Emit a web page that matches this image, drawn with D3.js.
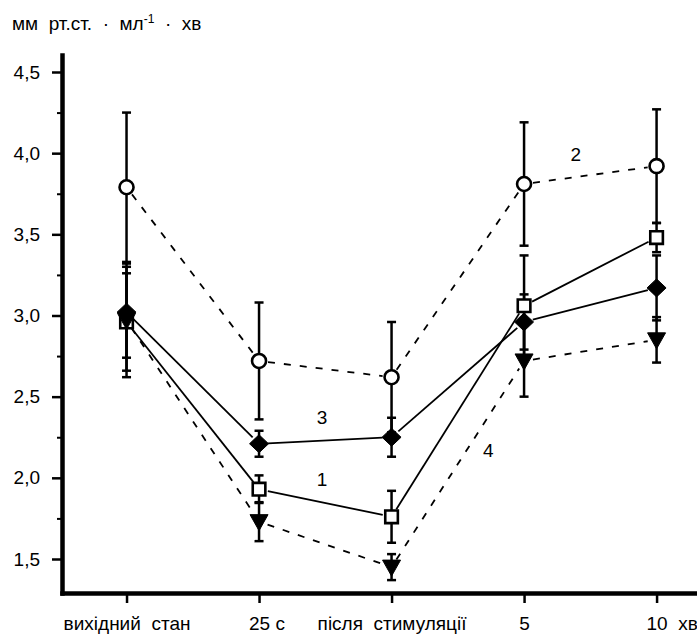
<!DOCTYPE html>
<html>
<head>
<meta charset="utf-8">
<script src="https://cdn.jsdelivr.net/npm/d3@7"></script>
<style>
  body { margin: 0; background: #fff; }
  svg { display: block; font-family: "Liberation Sans", Arial, sans-serif; }
</style>
</head>
<body>
<div class="chart"></div>
<script>
// data
const categories = ["вихідний  стан", "25 с", "після  стимуляції", "5", "10  хв"];
const categoryNumbers = [null, "25", null, null, "10"];
const yTicks = [1.5, 2.0, 2.5, 3.0, 3.5, 4.0, 4.5];
const yMinor = [1.75, 2.25, 2.75, 3.25, 3.75, 4.25];

// 1 - squares, 2 - circles, 3 - diamonds, 4 - triangles
const s1 = [2.96, 1.93, 1.76, 3.06, 3.48];
const e1 = [0.30, 0.085, 0.16, 0.31, 0.09];
const s2 = [3.79, 2.72, 2.62, 3.81, 3.92];
const e2 = [0.46, 0.36, 0.34, 0.38, 0.35];
const s3 = [3.02, 2.21, 2.25, 2.96, 3.17];
const e3 = [0.28, 0.08, 0.12, 0.17, 0.20];
const s4 = [2.97, 1.73, 1.45, 2.72, 2.85];
const e4 = [0.35, 0.12, 0.08, 0.22, 0.14];

const series = [
  { name: "1", values: s1, errors: e1, symbol: "square", dashed: false },
  { name: "2", values: s2, errors: e2, symbol: "circle", dashed: true },
  { name: "3", values: s3, errors: e3, symbol: "diamond", dashed: false },
  { name: "4", values: s4, errors: e4, symbol: "triangle", dashed: true }
];

// series number labels: [text, x position in category units, y value]
const curveLabels = [["1", 1.475, 1.99], ["2", 3.39, 3.99], ["3", 1.475, 2.37], ["4", 2.73, 2.17]];

///////////////////////////////////////////////////
//  Layout
///////////////////////////////////////////////////
const width = 697, height = 634;
const fontSize = "19px";

const x = d3.scaleLinear().domain([-0.487, 4.29]).range([62, 695]);
const y = d3.scaleLinear().domain([1.2905, 4.6047]).range([593, 55]);

const svg = d3.select(".chart").append("svg")
  .attr("width", width)
  .attr("height", height);

// unit label
svg.append("text")
  .attr("x", 12).attr("y", 30)
  .attr("xml:space", "preserve")
  .style("font-size", "19px")
  .html('мм  рт.ст.  ·  мл<tspan dy="-7" font-size="12">-1</tspan><tspan dy="7">  ·  хв</tspan>');

// y axis
const yAxis = svg.append("g")
  .attr("transform", `translate(${x.range()[0]},0)`)
  .call(d3.axisLeft(y).tickValues(yTicks).tickSize(10).tickSizeOuter(0)
    .tickFormat(d => d3.format(".1f")(d).replace(".", ",")));
yAxis.select(".domain").attr("stroke-width", 4.5).attr("stroke-linecap", "square");
yAxis.selectAll(".tick line").attr("stroke-width", 2.5);
yAxis.selectAll(".tick text")
  .attr("x", -22)
  .style("font-size", fontSize)
  .attr("fill", "#000");

svg.append("g")
  .attr("transform", `translate(${x.range()[0]},0)`)
  .call(d3.axisLeft(y).tickValues(yMinor).tickSize(5).tickFormat(""))
  .call(g => g.select(".domain").remove())
  .selectAll(".tick line").attr("stroke-width", 2);

// x axis
const xAxis = svg.append("g")
  .attr("transform", `translate(0,${y.range()[0]})`)
  .call(d3.axisBottom(x).tickValues(d3.range(categories.length)).tickSize(10).tickSizeOuter(0)
    .tickFormat(i => categories[i]));
xAxis.select(".domain").attr("stroke-width", 4.5).attr("stroke-linecap", "square");
xAxis.selectAll(".tick line").attr("stroke-width", 2.5);
xAxis.selectAll(".tick text")
  .attr("y", 24)
  .attr("xml:space", "preserve")
  .style("font-size", fontSize)
  .attr("fill", "#000")
  .each(function(d) {
    // labels like "25 с": centre the number on the tick, unit follows
    const num = categoryNumbers[d];
    if (!num) return;
    const t = d3.select(this).attr("text-anchor", "start").text(num);
    const w = this.getComputedTextLength();
    t.text(categories[d]).attr("x", -w / 2);
  });

///////////////////////////////////////////////////
//  Error bars
///////////////////////////////////////////////////
const bars = svg.append("g").attr("stroke", "#000");
series.forEach(s => {
  s.values.forEach((v, i) => {
    const e = s.errors[i];
    bars.append("line")
      .attr("x1", x(i)).attr("x2", x(i))
      .attr("y1", y(v + e)).attr("y2", y(v - e))
      .attr("stroke-width", 2.5);
    [v + e, v - e].forEach(c => {
      bars.append("line")
        .attr("x1", x(i) - 4.5).attr("x2", x(i) + 4.5)
        .attr("y1", y(c)).attr("y2", y(c))
        .attr("stroke-width", 2.5);
    });
  });
});

///////////////////////////////////////////////////
//  Lines (with a small gap around markers)
///////////////////////////////////////////////////
const gap = 9;
const lines = svg.append("g").attr("stroke", "#000").attr("fill", "none");
series.forEach(s => {
  for (let i = 0; i < s.values.length - 1; i++) {
    const ax = x(i), ay = y(s.values[i]);
    const bx = x(i + 1), by = y(s.values[i + 1]);
    const len = Math.hypot(bx - ax, by - ay);
    const ux = (bx - ax) / len, uy = (by - ay) / len;
    lines.append("line")
      .attr("x1", ax + ux * gap).attr("y1", ay + uy * gap)
      .attr("x2", bx - ux * gap).attr("y2", by - uy * gap)
      .attr("stroke-width", 1.8)
      .attr("stroke-dasharray", s.dashed ? "7,9" : null);
  }
});

///////////////////////////////////////////////////
//  Markers
///////////////////////////////////////////////////
function markerPath(type) {
  const p = d3.path();
  if (type === "square") {
    p.rect(-6.3, -6.3, 12.6, 12.6);
  } else if (type === "circle") {
    p.arc(0, 0, 7, 0, 2 * Math.PI);
  } else if (type === "diamond") {
    p.moveTo(0, -9); p.lineTo(9.5, 0); p.lineTo(0, 9); p.lineTo(-9.5, 0); p.closePath();
  } else {
    p.moveTo(-9, -7); p.lineTo(9, -7); p.lineTo(0, 9); p.closePath();
  }
  return p.toString();
}

const marks = svg.append("g");
series.forEach(s => {
  const filled = s.symbol === "diamond" || s.symbol === "triangle";
  marks.selectAll(null)
    .data(s.values)
    .enter()
    .append("path")
      .attr("transform", (d, i) => `translate(${x(i)},${y(d)})`)
      .attr("d", markerPath(s.symbol))
      .attr("fill", filled ? "#000" : "#fff")
      .attr("stroke", "#000")
      .attr("stroke-width", filled ? 1 : 2.6);
});

// curve numbers
svg.append("g").selectAll("text")
  .data(curveLabels)
  .enter()
  .append("text")
    .attr("x", d => x(d[1]))
    .attr("y", d => y(d[2]))
    .attr("dy", "0.35em")
    .attr("text-anchor", "middle")
    .style("font-size", fontSize)
    .text(d => d[0]);
</script>
</body>
</html>
